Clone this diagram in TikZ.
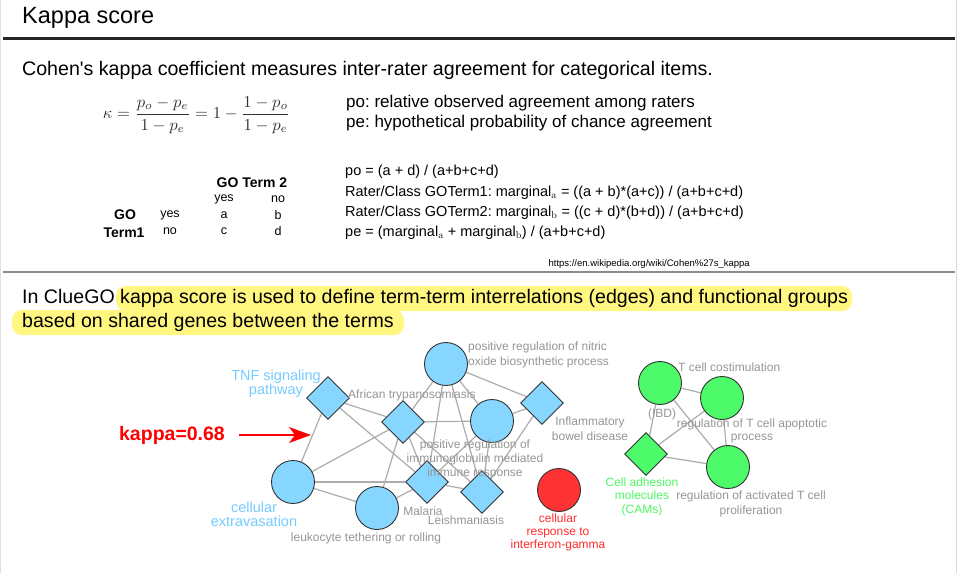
\documentclass[tikz,border=0pt]{standalone}
\usepackage[no-math]{fontspec}
\setmainfont{Liberation Sans}
\usetikzlibrary{shapes.geometric,arrows.meta}
\pgfdeclarelayer{bg}
\pgfsetlayers{bg,main}
\frenchspacing

\definecolor{nodeblue}{RGB}{135,214,255}
\definecolor{nodegreen}{RGB}{76,250,106}
\definecolor{nodered}{RGB}{255,51,51}
\definecolor{edgegray}{RGB}{172,172,172}
\definecolor{labelgray}{RGB}{150,150,150}
\definecolor{labelblue}{RGB}{118,204,255}
\definecolor{labelgreen}{RGB}{80,245,100}
\definecolor{labelred}{RGB}{255,45,45}
\definecolor{hilite}{RGB}{255,247,128}

\tikzset{
  term/.style={circle, draw=black!80, line width=0.9pt, minimum size=43pt, inner sep=0pt},
  pathway/.style={diamond, aspect=1, draw=black!80, line width=0.9pt, minimum size=43pt, inner sep=0pt},
  link/.style={draw=edgegray, line width=1.2pt},
  lbl/.style={font=\fontsize{12}{15}\selectfont, text=labelgray, align=center, inner sep=0pt},
  grouplbl/.style={font=\fontsize{14.5}{14}\selectfont, text=labelblue, align=center, inner sep=0pt},
  body/.style={font=\fontsize{19.6}{24}\selectfont, anchor=west, inner sep=0pt},
  note/.style={font=\fontsize{17}{20}\selectfont, anchor=west, inner sep=0pt},
  calc/.style={font=\fontsize{14.5}{17}\selectfont, anchor=west, inner sep=0pt},
  cell/.style={font=\fontsize{12.5}{14}\selectfont, inner sep=0pt},
  head/.style={font=\bfseries\fontsize{14}{16}\selectfont, inner sep=0pt},
}

\begin{document}
\begin{tikzpicture}[x=1pt,y=-1pt]
\useasboundingbox (0,0) rectangle (964,573);
\begin{pgfonlayer}{bg}
  \fill[white] (0,0) rectangle (964,573);
\end{pgfonlayer}
\draw[black!12, line width=0.8pt] (0.5,0) -- (0.5,573);
\draw[black!15, line width=0.8pt] (956,0) -- (956,573);

% title and rules
\node[anchor=west, font=\fontsize{23.5}{28}\selectfont, inner sep=0pt] (title) at (22,18) {Kappa score};
\draw[line width=2.2pt, black!85] (3,38.5) -- (955,38.5);
\draw[line width=1.8pt, black!45] (3,272) -- (955,272);

% definition
\node[body] (intro) at (22,70) {Cohen\textquotesingle s kappa coefficient measures inter-rater agreement for categorical items.};
\node[inner sep=0pt, text=black!80] (formula) at (196.5,115)
  {\resizebox{187pt}{!}{$\displaystyle \kappa=\frac{p_o-p_e}{1-p_e}=1-\frac{1-p_o}{1-p_e}$}};
\node[note] (po) at (346,103) {po: relative observed agreement among raters};
\node[note] (pe) at (346,123) {pe: hypothetical probability of chance agreement};

% contingency table
\node[head] (gt2) at (252,183) {GO Term 2};
\node[cell] (y2) at (224,199) {yes};
\node[cell] (n2) at (278,199) {no};
\node[head] (go1) at (125,215) {GO};
\node[head] (term1) at (124,233) {Term1};
\node[cell] (y1) at (170,215) {yes};
\node[cell] (n1) at (170,231) {no};
\node[cell] (ca) at (224,215) {a};
\node[cell] (cb) at (278,215) {b};
\node[cell] (cc) at (224,231) {c};
\node[cell] (cd) at (278,231) {d};

% marginal formulas
\node[calc] (f1) at (345,172) {po = (a + d) / (a+b+c+d)};
\node[calc] (f2) at (345,193) {Rater/Class GOTerm1: marginal$_{\mathrm{a}}$ = ((a + b)*(a+c)) / (a+b+c+d)};
\node[calc] (f3) at (345,213) {Rater/Class GOTerm2: marginal$_{\mathrm{b}}$ = ((c + d)*(b+d)) / (a+b+c+d)};
\node[calc] (f4) at (345,233) {pe = (marginal$_{\mathrm{a}}$ + marginal$_{\mathrm{b}}$) / (a+b+c+d)};
\node[anchor=east, font=\fontsize{9.5}{11}\selectfont, inner sep=0pt] (url) at (750,264) {https://en.wikipedia.org/wiki/Cohen\%27s\_kappa};

% ClueGO statement with highlight
\fill[hilite, rounded corners=10pt] (116,286) rectangle (852,311);
\fill[hilite, rounded corners=10pt] (12,310) rectangle (404,335);
\node[body] (clue1) at (22,298) {In ClueGO kappa score is used to define term-term interrelations (edges) and functional groups};
\node[body] (clue2) at (22,322) {based on shared genes between the terms};

% network: blue group
\node[pathway, fill=nodeblue] (tnf) at (328,398) {};
\node[pathway, fill=nodeblue] (afr) at (403,422) {};
\node[term, fill=nodeblue] (nitric) at (446,364) {};
\node[term, fill=nodeblue] (immuno) at (492,421) {};
\node[pathway, fill=nodeblue] (ibd) at (542,403) {};
\node[pathway, fill=nodeblue] (mal) at (427,482) {};
\node[pathway, fill=nodeblue] (leish) at (482,492) {};
\node[term, fill=nodeblue] (extrav) at (293,482) {};
\node[term, fill=nodeblue] (leuko) at (377,508) {};
% red singleton
\node[term, fill=nodered] (ifng) at (559,490) {};
% green group
\node[term, fill=nodegreen] (gibd) at (660,383) {};
\node[term, fill=nodegreen] (costim) at (722,398) {};
\node[pathway, fill=nodegreen] (cam) at (646,454) {};
\node[term, fill=nodegreen] (actprol) at (728,467) {};

\begin{pgfonlayer}{bg}
  \foreach \a/\b in {tnf/extrav, tnf/afr, tnf/mal, afr/nitric, afr/immuno, afr/extrav,
                     afr/leuko, afr/mal, afr/leish, nitric/mal, nitric/leish, nitric/immuno,
                     nitric/ibd, immuno/ibd, immuno/mal, immuno/leish, ibd/leish,
                     extrav/mal, extrav/leuko, leuko/mal, mal/leish,
                     gibd/costim, gibd/cam, gibd/actprol, costim/cam, costim/actprol, cam/actprol}
    \draw[link] (\a) -- (\b);
\end{pgfonlayer}

% node labels
\node[lbl, align=left, anchor=west] (l-nitric) at (468,354.5) {positive regulation of nitric\\oxide biosynthetic process};
\node[grouplbl] (l-tnf) at (276,384) {TNF signaling\\pathway};
\node[lbl, anchor=west] (l-afr) at (348,395) {African trypanosomiasis};
\node[lbl] (l-ibd) at (590,428.5) {Inflammatory\\bowel disease};
\node[lbl, font=\fontsize{12}{14}\selectfont] (l-immuno) at (475,459) {positive regulation of\\immunoglobulin mediated\\immune response};
\node[lbl] (l-mal) at (423,511) {Malaria};
\node[lbl] (l-leish) at (466,520) {Leishmaniasis};
\node[grouplbl] (l-extrav) at (254,514) {cellular\\extravasation};
\node[lbl] (l-leuko) at (366,538) {leukocyte tethering or rolling};
\node[lbl, text=labelred, font=\fontsize{12}{13}\selectfont] (l-ifng) at (558,532) {cellular\\response to\\interferon-gamma};
\node[lbl, anchor=west] (l-costim) at (678,367) {T cell costimulation};
\node[lbl] (l-gibd) at (662,414) {(IBD)};
\node[lbl, font=\fontsize{12}{12.5}\selectfont] (l-apop) at (752,431) {regulation of T cell apoptotic\\process};
\node[lbl, text=labelgreen, font=\fontsize{12}{13.5}\selectfont] (l-cam) at (642,496.5) {Cell adhesion\\molecules\\(CAMs)};
\node[lbl] (l-actprol) at (751,503.5) {regulation of activated T cell\\proliferation};

% kappa callout
\node[font=\bfseries\fontsize{19.5}{22}\selectfont, text=red, inner sep=0pt] (kappa) at (172,435) {kappa=0.68};
\coordinate (kappatip) at (311,435);
\draw[red, line width=1.6pt, -{Stealth[length=22pt,width=16pt,inset=6pt]}] ([xshift=14pt]kappa.east) -- (kappatip);
\end{tikzpicture}
\end{document}
